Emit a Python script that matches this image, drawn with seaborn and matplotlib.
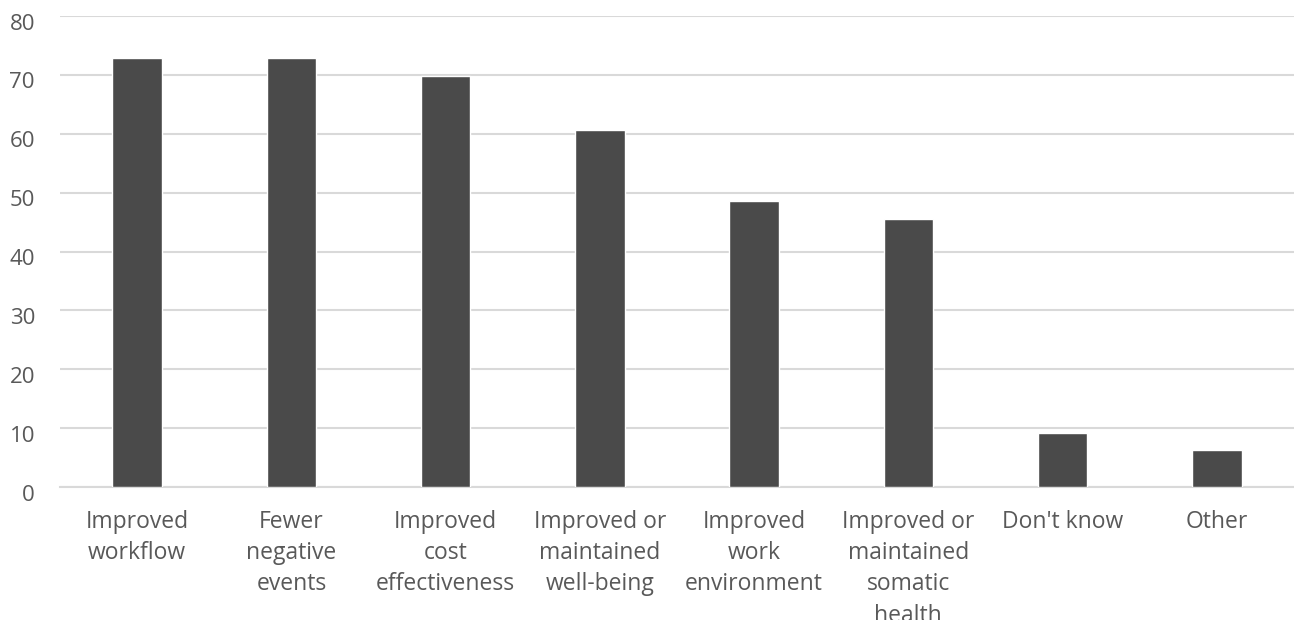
import matplotlib
matplotlib.use("Agg")
import matplotlib.pyplot as plt
import matplotlib.transforms as mtransforms
import seaborn as sns
import pandas as pd

categories = [
    "Improved\nworkflow",
    "Fewer\nnegative\nevents",
    "Improved\ncost\neffectiveness",
    "Improved or\nmaintained\nwell-being",
    "Improved\nwork\nenvironment",
    "Improved or\nmaintained\nsomatic\nhealth",
    "Don't know",
    "Other",
]
values = [72.8, 72.8, 69.8, 60.7, 48.6, 45.6, 9.2, 6.2]
y_ticks = [0, 10, 20, 30, 40, 50, 60, 70, 80]

df = pd.DataFrame({"category": categories, "value": values})

sns.set_theme(style="white")
plt.rcParams["font.family"] = ["Open Sans", "DejaVu Sans"]

text_color = "#595959"
grid_color = "#d9d9d9"
bar_color = "#4a4a4a"

fig = plt.figure(figsize=(12.94, 6.2), dpi=100)
ax = fig.add_axes([60 / 1294, 1 - 487 / 620, (1294 - 60) / 1294, (487 - 16) / 620])

sns.barplot(data=df, x="category", y="value", color=bar_color,
            width=0.32, saturation=1, ax=ax, zorder=3)

ax.set_ylim(0, 80)
ax.set_xlim(-0.5, len(categories) - 0.5)
ax.set_yticks(y_ticks)
ax.yaxis.grid(True, color=grid_color, linewidth=1.5, zorder=0)
ax.set_axisbelow(True)
for side in ["left", "right", "top"]:
    ax.spines[side].set_visible(False)
ax.spines["bottom"].set_color(grid_color)
ax.spines["bottom"].set_linewidth(1.5)
ax.spines["bottom"].set_zorder(1)

ax.set_xlabel("")
ax.set_ylabel("")
ax.tick_params(axis="both", length=0, colors=text_color)
ax.tick_params(axis="x", pad=16.5, labelsize=16.5)
ax.tick_params(axis="y", pad=18, labelsize=16)
for lbl in ax.get_xticklabels():
    lbl.set_linespacing(1.40)
    lbl.set_ha("center")

# y labels sit slightly below their gridlines
shift = mtransforms.ScaledTranslation(0, -4 / 72, fig.dpi_scale_trans)
for lbl in ax.get_yticklabels():
    lbl.set_transform(lbl.get_transform() + shift)

fig.savefig("out.png", dpi=100, facecolor="white")
